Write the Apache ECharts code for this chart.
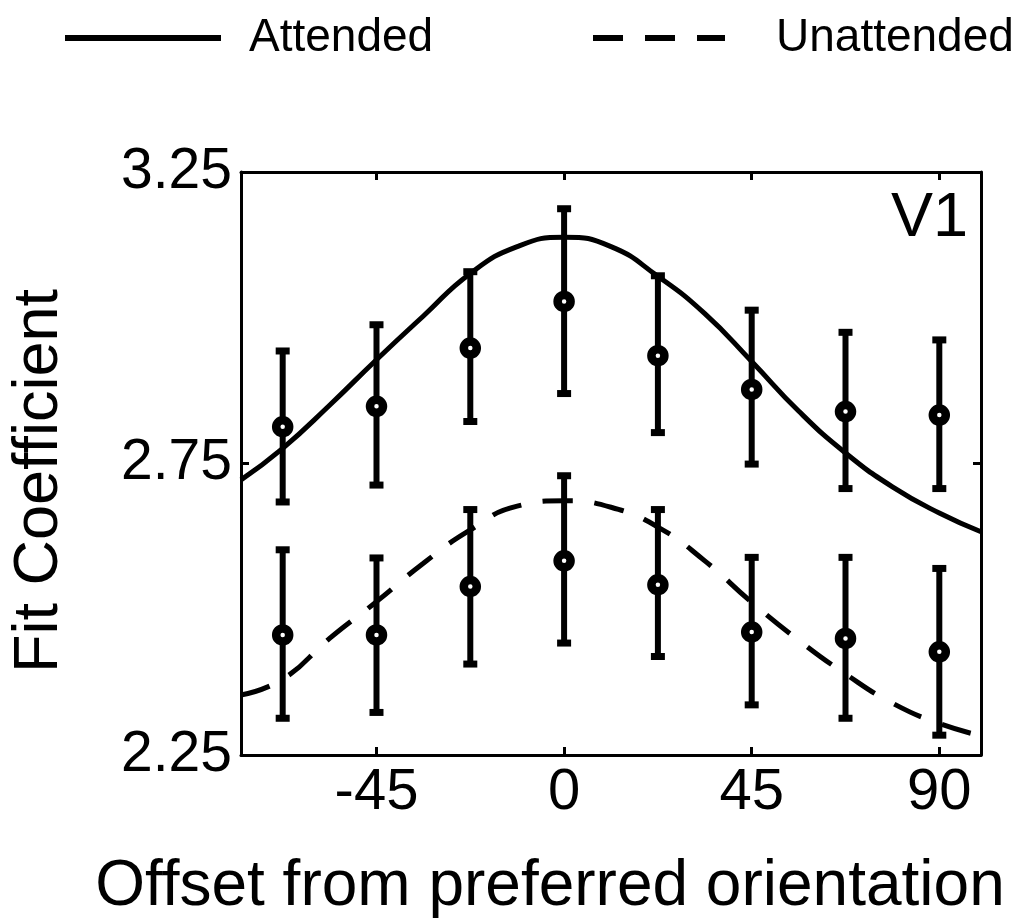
<!DOCTYPE html>
<html>
<head>
<meta charset="utf-8">
<script src="https://cdn.jsdelivr.net/npm/echarts@6/dist/echarts.min.js"></script>
<style>
  html, body { margin: 0; padding: 0; background: #fff; }
  #chart { width: 1021px; height: 919px; }
</style>
</head>
<body>
<div id="chart"></div>
<script>
// orientation offsets of the measured points
const offsets = [-67.5, -45, -22.5, 0, 22.5, 45, 67.5, 90]

// attended: mean and error bar ends
const attendedMean = [2.813, 2.848, 2.948, 3.028, 2.935, 2.877, 2.839, 2.833]
const attendedLow = [2.684, 2.713, 2.822, 2.870, 2.803, 2.749, 2.707, 2.707]
const attendedHigh = [2.943, 2.988, 3.079, 3.187, 3.072, 3.013, 2.975, 2.962]

// unattended: mean and error bar ends
const unattendedMean = [2.456, 2.456, 2.539, 2.583, 2.542, 2.461, 2.450, 2.427]
const unattendedLow = [2.313, 2.323, 2.406, 2.442, 2.419, 2.336, 2.313, 2.284]
const unattendedHigh = [2.602, 2.588, 2.671, 2.729, 2.671, 2.589, 2.589, 2.570]

// fitted tuning curves
const fitX = [-77.5, -67.5, -56.25, -45, -33.75, -22.5, -11.25, 0, 11.25, 22.5, 33.75, 45, 56.25, 67.5, 78.75, 90, 100]
const attendedFit = [2.722, 2.776, 2.850, 2.928, 3.003, 3.076, 3.122, 3.138, 3.122, 3.071, 3.007, 2.925, 2.840, 2.768, 2.710, 2.665, 2.633]
const unattendedFit = [2.353, 2.380, 2.450, 2.513, 2.579, 2.636, 2.677, 2.686, 2.675, 2.641, 2.583, 2.512, 2.447, 2.389, 2.339, 2.304, 2.283]

const xTicks = [-45, 0, 45, 90]
const yTicks = [2.25, 2.75, 3.25]

const font = '"Liberation Sans", Arial, Helvetica, sans-serif'

const chart = echarts.init(document.getElementById('chart'))

const zip = (xs, ys) => xs.map((x, i) => [x, ys[i]])
const bars = (lo, hi) => offsets.map((x, i) => [x, lo[i], hi[i]])

const errorBar = function (params, api) {
  const x = api.value(0)
  const lo = api.coord([x, api.value(1)])
  const hi = api.coord([x, api.value(2)])
  const cap = 14
  return {
    type: 'group',
    children: [
      { type: 'line', shape: { x1: lo[0], y1: lo[1], x2: hi[0], y2: hi[1] }, style: { stroke: '#000', lineWidth: 6 } },
      { type: 'rect', shape: { x: hi[0] - cap / 2, y: hi[1] - 3.5, width: cap, height: 7 }, style: { fill: '#000' } },
      { type: 'rect', shape: { x: lo[0] - cap / 2, y: lo[1] - 3.5, width: cap, height: 7 }, style: { fill: '#000' } }
    ]
  }
}

const axisLine = { show: true, onZero: false, lineStyle: { color: '#000', width: 3 } }
const tickStyle = { color: '#000', width: 3 }

const option = {
  animation: false,
  backgroundColor: '#fff',
  textStyle: { fontFamily: font },
  grid: { left: 241, right: 40, top: 172, bottom: 164 },
  legend: [
    {
      left: 62,
      top: 15,
      padding: 0,
      itemWidth: 156,
      itemHeight: 8,
      data: ['Attended'],
      itemStyle: { opacity: 0 },
      lineStyle: { width: 6 },
      textStyle: { fontSize: 46, color: '#000', fontFamily: font, padding: [0, 0, 0, 23] }
    },
    {
      left: 590,
      top: 15,
      padding: 0,
      itemWidth: 132,
      itemHeight: 8,
      data: ['Unattended'],
      itemStyle: { opacity: 0 },
      lineStyle: { width: 6 },
      textStyle: { fontSize: 46, color: '#000', fontFamily: font, padding: [0, 0, 0, 46] }
    }
  ],
  xAxis: [
    {
      type: 'value',
      min: -77.5,
      max: 100,
      position: 'bottom',
      axisLine: axisLine,
      axisTick: { show: true, inside: true, length: 8, lineStyle: tickStyle, customValues: xTicks },
      axisLabel: { customValues: xTicks, fontSize: 58, color: '#000', margin: 9, fontFamily: font },
      splitLine: { show: false }
    },
    {
      type: 'value',
      min: -77.5,
      max: 100,
      position: 'top',
      axisLine: axisLine,
      axisTick: { show: true, inside: true, length: 8, lineStyle: tickStyle, customValues: xTicks },
      axisLabel: { show: false },
      splitLine: { show: false }
    }
  ],
  yAxis: [
    {
      type: 'value',
      min: 2.25,
      max: 3.25,
      position: 'left',
      axisLine: axisLine,
      axisTick: { show: true, inside: true, length: 8, lineStyle: tickStyle, customValues: yTicks },
      axisLabel: {
        customValues: yTicks,
        fontSize: 57,
        color: '#000',
        margin: 9,
        fontFamily: font,
        formatter: v => v.toFixed(2)
      },
      splitLine: { show: false }
    },
    {
      type: 'value',
      min: 2.25,
      max: 3.25,
      position: 'right',
      axisLine: axisLine,
      axisTick: { show: true, inside: true, length: 8, lineStyle: tickStyle, customValues: yTicks },
      axisLabel: { show: false },
      splitLine: { show: false }
    }
  ],
  graphic: [
    {
      type: 'text',
      x: 40,
      y: 481,
      rotation: Math.PI / 2,
      style: { text: 'Fit Coefficient', font: '63px ' + font, fill: '#000', textAlign: 'center', textVerticalAlign: 'middle' }
    },
    {
      type: 'text',
      x: 550,
      y: 887,
      style: { text: 'Offset from preferred orientation', font: '64px ' + font, fill: '#000', textAlign: 'center', textVerticalAlign: 'middle' }
    },
    {
      type: 'text',
      x: 968,
      y: 219,
      style: { text: 'V1', font: '63px ' + font, fill: '#000', textAlign: 'right', textVerticalAlign: 'middle' }
    }
  ],
  series: [
    {
      name: 'Attended',
      type: 'line',
      data: zip(fitX, attendedFit),
      smooth: true,
      symbol: 'none',
      lineStyle: { color: '#000', width: 5 },
      itemStyle: { color: '#000' },
      z: 2
    },
    {
      name: 'Unattended',
      type: 'line',
      data: zip(fitX, unattendedFit),
      smooth: true,
      symbol: 'none',
      lineStyle: { color: '#000', width: 5, type: [30, 22] },
      itemStyle: { color: '#000' },
      z: 2
    },
    {
      name: 'Attended error',
      type: 'custom',
      renderItem: errorBar,
      data: bars(attendedLow, attendedHigh),
      encode: { x: 0, y: [1, 2] },
      z: 3
    },
    {
      name: 'Unattended error',
      type: 'custom',
      renderItem: errorBar,
      data: bars(unattendedLow, unattendedHigh),
      encode: { x: 0, y: [1, 2] },
      z: 3
    },
    {
      name: 'Attended mean',
      type: 'scatter',
      data: zip(offsets, attendedMean),
      symbol: 'circle',
      symbolSize: 13,
      itemStyle: { color: '#fff', borderColor: '#000', borderWidth: 8.5, opacity: 1 },
      z: 4
    },
    {
      name: 'Unattended mean',
      type: 'scatter',
      data: zip(offsets, unattendedMean),
      symbol: 'circle',
      symbolSize: 13,
      itemStyle: { color: '#fff', borderColor: '#000', borderWidth: 8.5, opacity: 1 },
      z: 4
    }
  ]
}

chart.setOption(option)
window.addEventListener('resize', () => {
  chart.resize()
})
</script>
</body>
</html>
